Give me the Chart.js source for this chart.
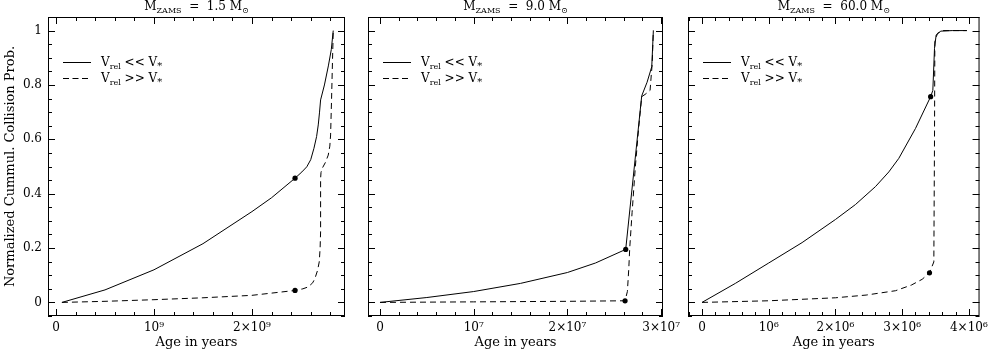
<!DOCTYPE html>
<html>
<head>
<meta charset="utf-8">
<script src="https://cdn.jsdelivr.net/npm/chart.js@4.4.1/dist/chart.umd.min.js"></script>
<style>
  html, body { margin: 0; padding: 0; background: #fff; }
  #wrap { position: relative; width: 993px; height: 352px; }
  canvas { position: absolute; left: 0; top: 0; }
</style>
</head>
<body>
<div id="wrap">
  <canvas id="c1" width="993" height="352"></canvas>
  <canvas id="c2" width="993" height="352"></canvas>
  <canvas id="c3" width="993" height="352"></canvas>
</div>
<script>
// y axis, shared by all three panels
const yTickVals = [0, 0.2, 0.4, 0.6, 0.8, 1];
const yTickLabels = ['0', '0.2', '0.4', '0.6', '0.8', '1'];

// panel 1 : M_ZAMS = 1.5
const p1SolidAge = [0.06e9, 0.5e9, 1.0e9, 1.5e9, 2.0e9, 2.2e9, 2.44e9, 2.51e9, 2.56e9, 2.60e9, 2.633e9, 2.66e9, 2.677e9, 2.69e9, 2.701e9, 2.74e9, 2.78e9, 2.81e9, 2.83e9];
const p1Solid    = [0, 0.046, 0.12, 0.216, 0.334, 0.385, 0.457, 0.48, 0.499, 0.525, 0.567, 0.61, 0.653, 0.70, 0.745, 0.80, 0.87, 0.93, 1.0];
const p1DashAge  = [0.06e9, 0.5e9, 1.0e9, 1.5e9, 2.0e9, 2.44e9, 2.52e9, 2.574e9, 2.62e9, 2.643e9, 2.67e9, 2.687e9, 2.696e9, 2.701e9, 2.701e9, 2.705e9, 2.717e9, 2.75e9, 2.779e9, 2.795e9, 2.803e9, 2.813e9, 2.823e9, 2.83e9];
const p1Dash     = [0, 0.004, 0.01, 0.017, 0.026, 0.044, 0.05, 0.057, 0.072, 0.088, 0.118, 0.149, 0.2, 0.26, 0.457, 0.478, 0.493, 0.515, 0.542, 0.575, 0.616, 0.751, 0.898, 1.0];
const p1DotAge   = [2.44e9, 2.44e9];
const p1Dot      = [0.457, 0.044];
const p1TickVals = [0, 1e9, 2e9];
const p1TickLabels = ['0', '10\u2079', '2\u00d710\u2079'];

// panel 2 : M_ZAMS = 9.0
const p2SolidAge = [0, 0.5e7, 1.0e7, 1.5e7, 2.0e7, 2.3e7, 2.622e7, 2.793e7, 2.85e7, 2.90e7, 2.917e7];
const p2Solid    = [0, 0.018, 0.04, 0.07, 0.11, 0.145, 0.195, 0.76, 0.81, 0.867, 1.0];
const p2DashAge  = [0, 1.0e7, 2.0e7, 2.615e7, 2.64e7, 2.655e7, 2.665e7, 2.69e7, 2.725e7, 2.76e7, 2.793e7, 2.828e7, 2.882e7, 2.905e7, 2.917e7];
const p2Dash     = [0, 0.002, 0.004, 0.006, 0.04, 0.125, 0.2, 0.33, 0.5, 0.64, 0.757, 0.765, 0.78, 0.88, 1.0];
const p2DotAge   = [2.622e7, 2.615e7];
const p2Dot      = [0.195, 0.006];
const p2TickVals = [0, 1e7, 2e7, 3e7];
const p2TickLabels = ['0', '10\u2077', '2\u00d710\u2077', '3\u00d710\u2077'];

// panel 3 : M_ZAMS = 60.0
const p3SolidAge = [0, 0.5e6, 1.0e6, 1.5e6, 2.0e6, 2.3e6, 2.6e6, 2.8e6, 2.95e6, 3.2e6, 3.427e6, 3.46e6, 3.485e6, 3.51e6, 3.58e6, 3.75e6, 3.97e6];
const p3Solid    = [0, 0.07, 0.145, 0.22, 0.305, 0.36, 0.426, 0.48, 0.53, 0.64, 0.757, 0.78, 0.935, 0.984, 0.998, 1.0, 1.0];
const p3DashAge  = [0, 1.0e6, 2.0e6, 2.46e6, 2.9e6, 3.14e6, 3.3e6, 3.41e6, 3.475e6, 3.485e6, 3.49e6, 3.53e6, 3.6e6, 3.97e6];
const p3Dash     = [0, 0.006, 0.017, 0.027, 0.043, 0.064, 0.085, 0.109, 0.149, 0.6, 0.96, 0.99, 1.0, 1.0];
const p3DotAge   = [3.427e6, 3.41e6];
const p3Dot      = [0.757, 0.109];
const p3TickVals = [0, 1e6, 2e6, 3e6, 4e6];
const p3TickLabels = ['0', '10\u2076', '2\u00d710\u2076', '3\u00d710\u2076', '4\u00d710\u2076'];

const serif = '"DejaVu Serif", "Liberation Serif", serif';
const pts = (xs, ys) => xs.map((x, i) => ({x: x, y: ys[i]}));

// draw text made of normal + subscript pieces
function segFont(s, size) {
  return (s.sub ? (s.big ? size - 2 : Math.round(size * 0.65)) : size) + 'px ' + serif;
}
function richWidth(ctx, segs, size) {
  let w = 0;
  segs.forEach(s => {
    ctx.font = segFont(s, size);
    w += ctx.measureText(s.t).width;
  });
  return w;
}
function drawRich(ctx, x, y, segs, size) {
  ctx.textBaseline = 'alphabetic';
  ctx.textAlign = 'left';
  segs.forEach(s => {
    ctx.font = segFont(s, size);
    ctx.fillText(s.t, x, s.sub ? y + 3 : y);
    x += ctx.measureText(s.t).width;
  });
}

const framePlugin = {
  id: 'frame',
  afterDatasetsDraw(chart, args, o) {
    const {ctx, chartArea: a} = chart;
    const xs = chart.scales.x, ys = chart.scales.y;
    ctx.save();
    ctx.strokeStyle = '#000';
    ctx.lineWidth = 1;
    ctx.strokeRect(a.left + 0.5, a.top + 0.5, a.right - a.left - 1, a.bottom - a.top - 1);
    ctx.beginPath();
    for (let i = Math.ceil(xs.min / o.xMinor); i * o.xMinor <= xs.max; i++) {
      const v = i * o.xMinor;
      const px = Math.round(xs.getPixelForValue(v)) + 0.5;
      const len = (i % o.xPer === 0) ? 7 : 4;
      ctx.moveTo(px, a.bottom); ctx.lineTo(px, a.bottom - len);
      ctx.moveTo(px, a.top); ctx.lineTo(px, a.top + len);
    }
    for (let i = Math.ceil(ys.min / 0.05 - 1e-6); i * 0.05 <= ys.max + 1e-9; i++) {
      const py = Math.round(ys.getPixelForValue(i * 0.05)) + 0.5;
      const len = (i % 4 === 0) ? 7 : 4;
      ctx.moveTo(a.left, py); ctx.lineTo(a.left + len, py);
      ctx.moveTo(a.right, py); ctx.lineTo(a.right - len, py);
    }
    ctx.stroke();

    // legend
    ctx.fillStyle = '#000';
    const lx = a.left + 15, ly1 = a.top + 45, ly2 = a.top + 61;
    ctx.beginPath(); ctx.moveTo(lx, ly1 + 0.5); ctx.lineTo(lx + 28, ly1 + 0.5); ctx.stroke();
    ctx.setLineDash([6, 3.5]);
    ctx.beginPath(); ctx.moveTo(lx, ly2 + 0.5); ctx.lineTo(lx + 28, ly2 + 0.5); ctx.stroke();
    ctx.setLineDash([]);
    drawRich(ctx, lx + 38, ly1 + 4, [{t: 'V'}, {t: 'rel', sub: true}, {t: ' << V'}, {t: '*', sub: true, big: true}], 12);
    drawRich(ctx, lx + 38, ly2 + 4, [{t: 'V'}, {t: 'rel', sub: true}, {t: ' >> V'}, {t: '*', sub: true, big: true}], 12);

    // panel title
    const segs = [{t: 'M'}, {t: 'ZAMS', sub: true}, {t: '  =  ' + o.mass + ' M'}, {t: '\u2299', sub: true}];
    const w = richWidth(ctx, segs, 12);
    drawRich(ctx, (a.left + a.right) / 2 - w / 2, a.top - 7, segs, 12);
    ctx.restore();
  }
};

function makePanel(id, p) {
  new Chart(document.getElementById(id), {
    type: 'scatter',
    data: {
      datasets: [{
        data: pts(p.solidAge, p.solid),
        showLine: true, borderColor: '#000', borderWidth: 1, pointRadius: 0, tension: 0
      }, {
        data: pts(p.dashAge, p.dash),
        showLine: true, borderColor: '#000', borderWidth: 1, borderDash: [6, 4], pointRadius: 0, tension: 0
      }, {
        data: pts(p.dotAge, p.dot),
        showLine: false, pointRadius: 2.6, pointBackgroundColor: '#000', pointBorderWidth: 0
      }]
    },
    options: {
      responsive: false,
      animation: false,
      devicePixelRatio: 1,
      layout: { padding: { left: p.padLeft, right: p.padRight, top: 17, bottom: 0 } },
      plugins: {
        legend: { display: false },
        tooltip: { enabled: false },
        frame: { xMinor: p.xMinor, xPer: 5, mass: p.mass }
      },
      scales: {
        x: {
          type: 'linear', min: p.xMin, max: p.xMax,
          grid: { display: false, drawTicks: false },
          border: { display: false },
          afterBuildTicks: s => { s.ticks = p.tickVals.map(v => ({value: v})); },
          afterFit: s => { s.height = 36; },
          ticks: {
            color: '#000', padding: 5, maxRotation: 0, autoSkip: false,
            font: { family: serif, size: 12 },
            callback: v => p.tickLabels[p.tickVals.indexOf(v)]
          },
          title: { display: true, text: 'Age in years', color: '#000', font: { family: serif, size: 13 }, padding: { top: 0, bottom: 2 } }
        },
        y: {
          min: -0.05, max: 1.05,
          grid: { display: false, drawTicks: false },
          border: { display: false },
          afterBuildTicks: s => { s.ticks = yTickVals.map(v => ({value: v})); },
          afterFit: s => { s.width = p.yWidth; },
          ticks: {
            display: p.yLabels, color: '#000', padding: 6,
            font: { family: serif, size: 12 },
            callback: v => yTickLabels[yTickVals.indexOf(v)]
          },
          title: { display: p.yLabels, text: 'Normalized Cummul. Collision Prob.', color: '#000', font: { family: serif, size: 13 }, padding: { top: 3, bottom: 0 } }
        }
      }
    },
    plugins: [framePlugin]
  });
}

makePanel('c1', {
  solidAge: p1SolidAge, solid: p1Solid, dashAge: p1DashAge, dash: p1Dash, dotAge: p1DotAge, dot: p1Dot,
  tickVals: p1TickVals, tickLabels: p1TickLabels, mass: '1.5',
  xMin: -0.082e9, xMax: 2.95e9, xMinor: 0.2e9,
  padLeft: 0, padRight: 648, yWidth: 48, yLabels: true
});
makePanel('c2', {
  solidAge: p2SolidAge, solid: p2Solid, dashAge: p2DashAge, dash: p2Dash, dotAge: p2DotAge, dot: p2Dot,
  tickVals: p2TickVals, tickLabels: p2TickLabels, mass: '9.0',
  xMin: -0.128e7, xMax: 3.02e7, xMinor: 0.2e7,
  padLeft: 368, padRight: 330, yWidth: 0, yLabels: false
});
makePanel('c3', {
  solidAge: p3SolidAge, solid: p3Solid, dashAge: p3DashAge, dash: p3Dash, dotAge: p3DotAge, dot: p3Dot,
  tickVals: p3TickVals, tickLabels: p3TickLabels, mass: '60.0',
  xMin: -0.21e6, xMax: 4.16e6, xMinor: 0.2e6,
  padLeft: 688, padRight: 7, yWidth: 0, yLabels: false
});
</script>
</body>
</html>
